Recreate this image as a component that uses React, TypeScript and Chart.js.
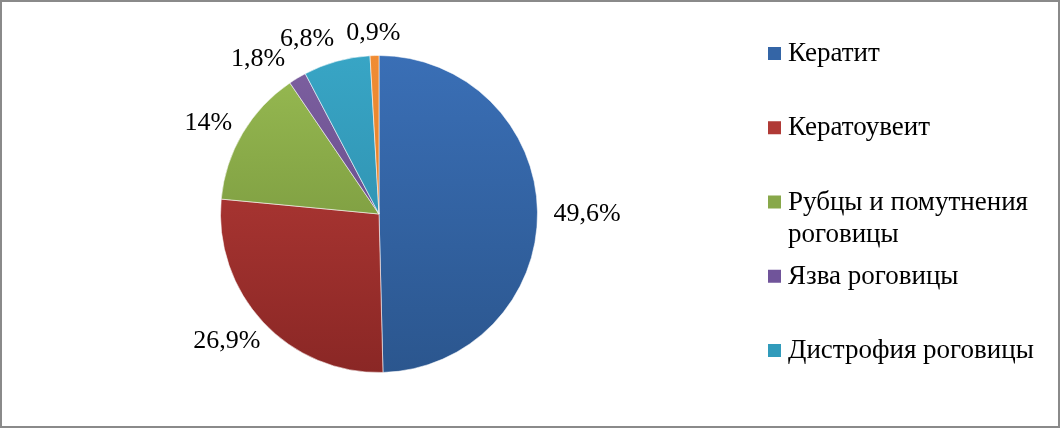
import React, { useEffect, useRef } from "react";
import { Chart, registerables } from "chart.js";

Chart.register(...registerables);

const categories = [
  "Кератит",
  "Кератоувеит",
  "Рубцы и помутнения роговицы",
  "Язва роговицы",
  "Дистрофия роговицы",
  "Прочие",
];
const values = [49.6, 26.9, 14, 1.8, 6.8, 0.9];
const valueLabels = ["49,6%", "26,9%", "14%", "1,8%", "6,8%", "0,9%"];
const legendShown = 5;

const topColors = ["#3a6fb6", "#bd3e3a", "#98bb52", "#7d60a0", "#38a5c5", "#f08c34"];
const bottomColors = ["#2b568e", "#8a2725", "#6b8835", "#5a4180", "#2a86a4", "#da7820"];
const legendColors = ["#3465a6", "#b03a36", "#88a84a", "#70549a", "#319bbb", "#e8842c"];

const FONT = '"Liberation Serif", "Times New Roman", serif';

const framePlugin = {
  id: "frame",
  afterDraw(chart: any) {
    const ctx = chart.ctx;
    ctx.save();
    ctx.strokeStyle = "#8a8a8a";
    ctx.lineWidth = 2;
    ctx.strokeRect(1, 1, 1058, 426);
    ctx.restore();
  },
};

const labelPlugin = {
  id: "pieLabels",
  afterDatasetsDraw(chart: any) {
    const ctx = chart.ctx;
    const meta = chart.getDatasetMeta(0);
    ctx.save();
    ctx.font = `26px ${FONT}`;
    ctx.fillStyle = "#000";
    const capH = 18;
    const gap = 16;
    const pad = 12;
    const vpad = 3;
    const placed: { l: number; r: number; t: number; b: number }[] = [];
    const n = meta.data.length;
    const results: { x: number; y: number; text: string }[] = [];
    for (let i = n - 1; i >= 0; i--) {
      const arc = meta.data[i];
      const p = arc.getProps(["x", "y", "startAngle", "endAngle", "outerRadius"], true);
      const mid = (p.startAngle + p.endAngle) / 2;
      const dx = Math.cos(mid);
      const dy = Math.sin(mid);
      const text = valueLabels[i];
      const w = ctx.measureText(text).width;
      const ax = p.x + (p.outerRadius + gap) * dx;
      const ay = p.y + (p.outerRadius + gap) * dy;
      let cx = ax + (dx * w) / 2;
      const cy = ay + (dy * capH) / 2;
      let box = { l: cx - w / 2, r: cx + w / 2, t: cy - capH / 2, b: cy + capH / 2 };
      for (const o of placed) {
        const vOverlap = box.t < o.b + vpad && box.b > o.t - vpad;
        const hOverlap = box.l < o.r + pad && box.r > o.l - pad;
        if (vOverlap && hOverlap) {
          // shift only as far as needed, but at most half a box when boxes barely touch vertically
          const full = dx < 0 ? box.r - (o.l - pad) : o.r + pad - box.l;
          const touching = box.t >= o.b || box.b <= o.t;
          const shift = touching ? full / 2 : full;
          cx += dx < 0 ? -shift : shift;
          box = { l: cx - w / 2, r: cx + w / 2, t: box.t, b: box.b };
        }
      }
      placed.push(box);
      results.push({ x: cx, y: cy, text });
    }
    ctx.textAlign = "center";
    ctx.textBaseline = "alphabetic";
    for (const r of results) {
      ctx.fillText(r.text, r.x, r.y + capH / 2);
    }
    ctx.restore();
  },
};

function wrap(ctx: CanvasRenderingContext2D, text: string, maxW: number): string[] {
  const words = text.split(" ");
  const lines: string[] = [];
  let cur = "";
  for (const w of words) {
    const test = cur ? cur + " " + w : w;
    if (ctx.measureText(test).width > maxW && cur) {
      lines.push(cur);
      cur = w;
    } else {
      cur = test;
    }
  }
  if (cur) lines.push(cur);
  return lines;
}

const legendPlugin = {
  id: "sideLegend",
  afterDraw(chart: any) {
    const ctx = chart.ctx;
    ctx.save();
    ctx.font = `27px ${FONT}`;
    ctx.textBaseline = "alphabetic";
    ctx.textAlign = "left";
    const boxX = 768;
    const textX = 788;
    const firstBaseline = 61;
    const slot = 74.25;
    const lineH = 32;
    const labels = chart.data.labels as string[];
    for (let i = 0; i < legendShown; i++) {
      const base = firstBaseline + i * slot;
      ctx.fillStyle = legendColors[i];
      ctx.fillRect(boxX, base - 14, 13, 13);
      ctx.fillStyle = "#000";
      const lines = wrap(ctx, labels[i], 262);
      lines.forEach((ln, k) => ctx.fillText(ln, textX, base + k * lineH));
    }
    ctx.restore();
  },
};

export default function App() {
  const ref = useRef<HTMLCanvasElement | null>(null);
  useEffect(() => {
    document.body.style.margin = "0";
    const canvas = ref.current!;
    const chart = new Chart(canvas, {
      type: "pie",
      data: {
        labels: categories,
        datasets: [
          {
            data: values,
            backgroundColor: (c: any) => {
              const ch = c.chart;
              const area = ch.chartArea;
              const i = c.dataIndex;
              if (!area) return topColors[i];
              const g = ch.ctx.createLinearGradient(0, area.top, 0, area.bottom);
              g.addColorStop(0, topColors[i]);
              g.addColorStop(1, bottomColors[i]);
              return g;
            },
            borderColor: "rgba(255,255,255,0.55)",
            borderWidth: 1,
          },
        ],
      },
      options: {
        animation: false,
        responsive: false,
        maintainAspectRatio: false,
        layout: { padding: { left: 220, right: 526, top: 55, bottom: 56 } },
        plugins: {
          legend: { display: false },
          tooltip: { enabled: false },
        },
      },
      plugins: [labelPlugin, legendPlugin, framePlugin],
    });
    return () => chart.destroy();
  }, []);
  return (
    <div style={{ position: "absolute", left: 0, top: 0, width: 1064, height: 429, background: "#fff" }}>
      <canvas ref={ref} width={1064} height={429} style={{ display: "block" }} />
    </div>
  );
}
